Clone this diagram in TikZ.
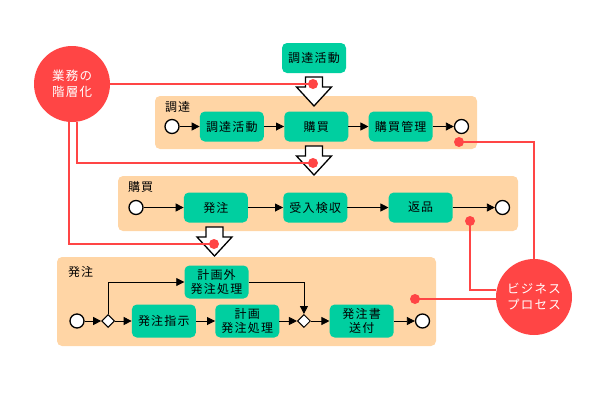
\documentclass[tikz,border=0pt]{standalone}
\usepackage{fontspec}
\setmainfont[LetterSpace=10]{Noto Sans CJK JP}
\usepackage{tikz}
\usetikzlibrary{arrows.meta, positioning, shapes.geometric}

\definecolor{lanebg}{HTML}{FFD5A5}
\definecolor{taskfill}{HTML}{00CFA0}
\definecolor{markred}{HTML}{FF4545}

\tikzset{
  lane/.style={rectangle, rounded corners=5pt, fill=lanebg, inner sep=0},
  lanelabel/.style={anchor=west, inner sep=0, font=\fontsize{12}{14}\selectfont},
  task/.style={rectangle, rounded corners=5pt, fill=taskfill, minimum width=64,
    minimum height=30, inner sep=0, align=center, font=\fontsize{12}{14}\selectfont},
  event/.style={circle, draw, line width=1.3pt, fill=white, minimum size=14, inner sep=0},
  gate/.style={diamond, draw, line width=1pt, fill=white, minimum size=13, inner sep=0},
  flow/.style={-{Triangle[length=8pt,width=8pt]}, line width=0.8pt},
  hollow/.style={draw, line width=1.3pt, fill=white, miter limit=10},
  redline/.style={markred, line width=1.2pt},
  reddot/.style={circle, fill=markred, minimum size=10, inner sep=0},
  bigdot/.style={circle, fill=markred, minimum size=76, inner sep=0, align=center,
    text=white, font=\fontsize{12.5}{16}\selectfont}
}

\begin{document}
\begin{tikzpicture}[x=1pt, y=-1pt]
    \useasboundingbox (0,0) rectangle (600,400);

    % Lanes
    \node[lane, minimum width=322, minimum height=53] (lchotatsu) at (316,122.5) {};
    \node[lane, minimum width=400, minimum height=55] (lkobai) at (318,203.5) {};
    \node[lane, minimum width=379, minimum height=89] (lhatchu) at (246.5,301.5) {};
    \node[lanelabel] (lbl1) at ([xshift=10, yshift=-11]lchotatsu.north west) {調達};
    \node[lanelabel] (lbl2) at ([xshift=10, yshift=-11]lkobai.north west) {購買};
    \node[lanelabel] (lbl3) at ([xshift=11, yshift=-15]lhatchu.north west) {発注};

    % Top activity
    \node[task] (topact) at (314,58) {調達活動};

    % Hollow arrows between the levels
    \foreach \x/\y in {314/77, 314/146, 214.5/227}
      \draw[hollow] (\x,\y) ++(-8.5,0) -- ++(0,10) -- ++(-9,0) -- ++(17.5,19)
        -- ++(17.5,-19) -- ++(-9,0) -- ++(0,-10) -- cycle;

    % Level 1
    \node[event] (s1) at (172,126.5) {};
    \node[task, right=20 of s1] (chotatsu) {調達活動};
    \node[task, right=20 of chotatsu] (kobai) {購買};
    \node[task, right=20 of kobai] (kanri) {購買管理};
    \node[event, right=21 of kanri] (e1) {};
    \draw[flow] (s1) -- (chotatsu);
    \draw[flow] (chotatsu) -- (kobai);
    \draw[flow] (kobai) -- (kanri);
    \draw[flow] (kanri) -- (e1);

    % Level 2
    \node[event] (s2) at (136,207.5) {};
    \node[task, right=40 of s2] (hatchu) {発注};
    \node[task, right=35 of hatchu] (kenshu) {受入検収};
    \node[task, right=41 of kenshu] (henpin) {返品};
    \node[event, right=42 of henpin] (e2) {};
    \draw[flow] (s2) -- (hatchu);
    \draw[flow] (hatchu) -- (kenshu);
    \draw[flow] (kenshu) -- (henpin);
    \draw[flow] (henpin) -- (e2);

    % Level 3
    \node[event] (s3) at (77,321) {};
    \node[gate, right=16.5 of s3] (g1) {};
    \node[task, minimum height=33, right=16.5 of g1] (shiji) {発注指示};
    \node[task, minimum height=33, right=19 of shiji] (keikaku) {計画\\発注処理};
    \node[gate, right=17.5 of keikaku] (g2) {};
    \node[task, minimum height=33, right=18.5 of g2] (sofu) {発注書\\送付};
    \node[event, right=21 of sofu] (e3) {};
    \node[task, minimum height=33] (gai) at (216.5,282) {計画外\\発注処理};
    \draw[flow] (s3) -- (g1);
    \draw[flow] (g1) -- (shiji);
    \draw[flow] (shiji) -- (keikaku);
    \draw[flow] (keikaku) -- (g2);
    \draw[flow] (g2) -- (sofu);
    \draw[flow] (sofu) -- (e3);
    \draw[flow] (g1.north) |- (gai.west);
    \draw[flow] (gai.east) -| (g2.north);

    % Red markers
    \node[bigdot] (layer) at (72,84) {業務の\\階層化};
    \node[bigdot] (biz) at (534,297) {ビジネス\\プロセス};
    \coordinate (d1) at (313,84);
    \coordinate (d2) at (313,163);
    \coordinate (d3) at (214,244);
    \coordinate (d4) at (459,142);
    \coordinate (d5) at (470,221);
    \coordinate (d6) at (415,299);
    \draw[redline] (layer.east) -- (d1);
    \draw[redline] ([xshift=5]layer.south) |- (d2);
    \draw[redline] ([xshift=-3]layer.south) |- (d3);
    \draw[redline] (d4) -| (biz.north);
    \draw[redline] (d5) |- ([yshift=7]biz.west);
    \draw[redline] (d6) -- (d6 -| biz.west);
    \foreach \d in {d1,d2,d3,d4,d5,d6}
      \node[reddot] at (\d) {};
\end{tikzpicture}
\end{document}
